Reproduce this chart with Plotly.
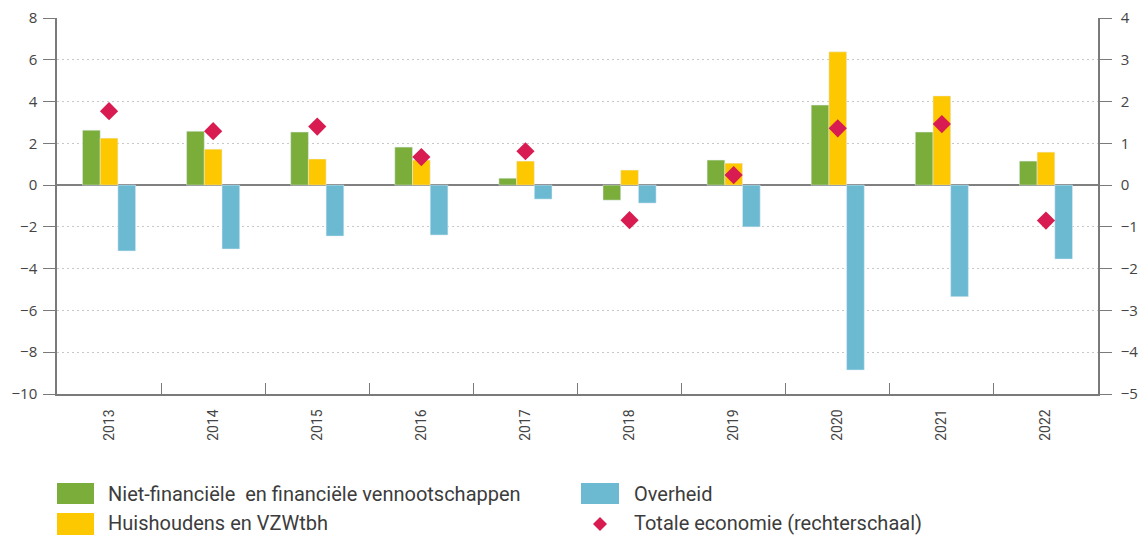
import plotly.graph_objects as go

years = ["2013", "2014", "2015", "2016", "2017", "2018", "2019", "2020", "2021", "2022"]
vennootschappen = [2.63, 2.58, 2.54, 1.82, 0.33, -0.72, 1.20, 3.83, 2.54, 1.15]
huishoudens = [2.25, 1.72, 1.25, 1.20, 1.15, 0.72, 1.05, 6.38, 4.27, 1.58]
overheid = [-3.15, -3.06, -2.44, -2.39, -0.67, -0.86, -2.00, -8.85, -5.34, -3.54]
totale_economie = [1.77, 1.29, 1.40, 0.67, 0.81, -0.84, 0.24, 1.36, 1.46, -0.85]

legend_labels = ["Niet-financiële\u00a0 en financiële vennootschappen", "Huishoudens en VZWtbh",
                 "Overheid", "Totale economie (rechterschaal)"]

GREEN = "#7bad3a"
YELLOW = "#fec800"
BLUE = "#6cbad2"
RED = "#d81b50"
AXIS = "#7a7a7a"
TXT = "#444444"

fig = go.Figure()
fig.add_trace(go.Bar(x=years, y=vennootschappen, name=legend_labels[0], marker_color=GREEN))
fig.add_trace(go.Bar(x=years, y=huishoudens, name=legend_labels[1], marker_color=YELLOW))
fig.add_trace(go.Bar(x=years, y=overheid, name=legend_labels[2], marker_color=BLUE))
fig.add_trace(go.Scatter(x=years, y=totale_economie, name=legend_labels[3],
                         mode="markers", yaxis="y2",
                         marker=dict(symbol="diamond", size=14, color=RED)))

# plot area in pixels: x 57..1098, y 18..394
W, H, L, T = 1041.0, 376.0, 57.0, 18.0
def px(x):
    return (x - L) / W
def py(y):
    return (T + H - y) / H

shapes = []
annotations = []
for (x0, x1, y0, y1, col) in [(57, 94, 483, 504, GREEN), (57, 94, 513, 535, YELLOW),
                              (581, 619, 483, 504, BLUE)]:
    shapes.append(dict(type="rect", xref="paper", yref="paper", x0=px(x0), x1=px(x1),
                       y0=py(y1), y1=py(y0), fillcolor=col, line_width=0))
cx, cy, r = 600, 524, 7
shapes.append(dict(type="path", xref="paper", yref="paper",
                   path=f"M {px(cx)} {py(cy - r)} L {px(cx + r)} {py(cy)} L {px(cx)} {py(cy + r)} L {px(cx - r)} {py(cy)} Z",
                   fillcolor=RED, line_width=0))
for (x, y, txt) in [(106, 494, legend_labels[0]), (106, 523, legend_labels[1]),
                    (632, 494, legend_labels[2]), (632, 523, legend_labels[3])]:
    annotations.append(dict(xref="paper", yref="paper", x=px(x), y=py(y), text=txt,
                            showarrow=False, xanchor="left", yanchor="middle",
                            font=dict(family="Roboto, sans-serif", size=20, color="#3c3c3c")))

fig.update_layout(
    width=1141, height=538,
    margin=dict(l=57, r=43, t=18, b=144, autoexpand=False),
    plot_bgcolor="white", paper_bgcolor="white",
    barmode="group", bargap=0.49, bargroupgap=0,
    font=dict(family="Open Sans, Noto Sans, sans-serif", color=TXT, size=14),
    showlegend=False,
    shapes=shapes, annotations=annotations,
    xaxis=dict(type="category", range=[-0.5, 9.5], tickangle=-90, tickson="boundaries",
               ticks="inside", ticklen=11, tickcolor=AXIS, showline=True, linecolor=AXIS,
               linewidth=1.5, tickfont=dict(family="Roboto, sans-serif", size=14, color=TXT),
               ticklabelstandoff=8, showgrid=False, automargin=False),
    yaxis=dict(range=[-10, 8], dtick=2, ticks="outside", ticklen=12, tickcolor=AXIS,
               showline=True, linecolor=AXIS, linewidth=1.5,
               showgrid=True, gridcolor="#c8c8c8", griddash="2px,3px", gridwidth=1,
               zeroline=True, zerolinecolor="#808080", zerolinewidth=2,
               tickfont=dict(size=15, color=TXT), ticklabelstandoff=3, automargin=False),
    yaxis2=dict(range=[-5, 4], dtick=1, overlaying="y", side="right",
                ticks="outside", ticklen=12, tickcolor=AXIS,
                showline=True, linecolor=AXIS, linewidth=1.5,
                showgrid=False, zeroline=False,
                tickfont=dict(size=15, color=TXT), ticklabelstandoff=6, automargin=False),
)

fig.write_html("out.html", config={"displayModeBar": False},
               post_script="document.body.style.margin='0px';document.body.style.overflow='hidden';")
